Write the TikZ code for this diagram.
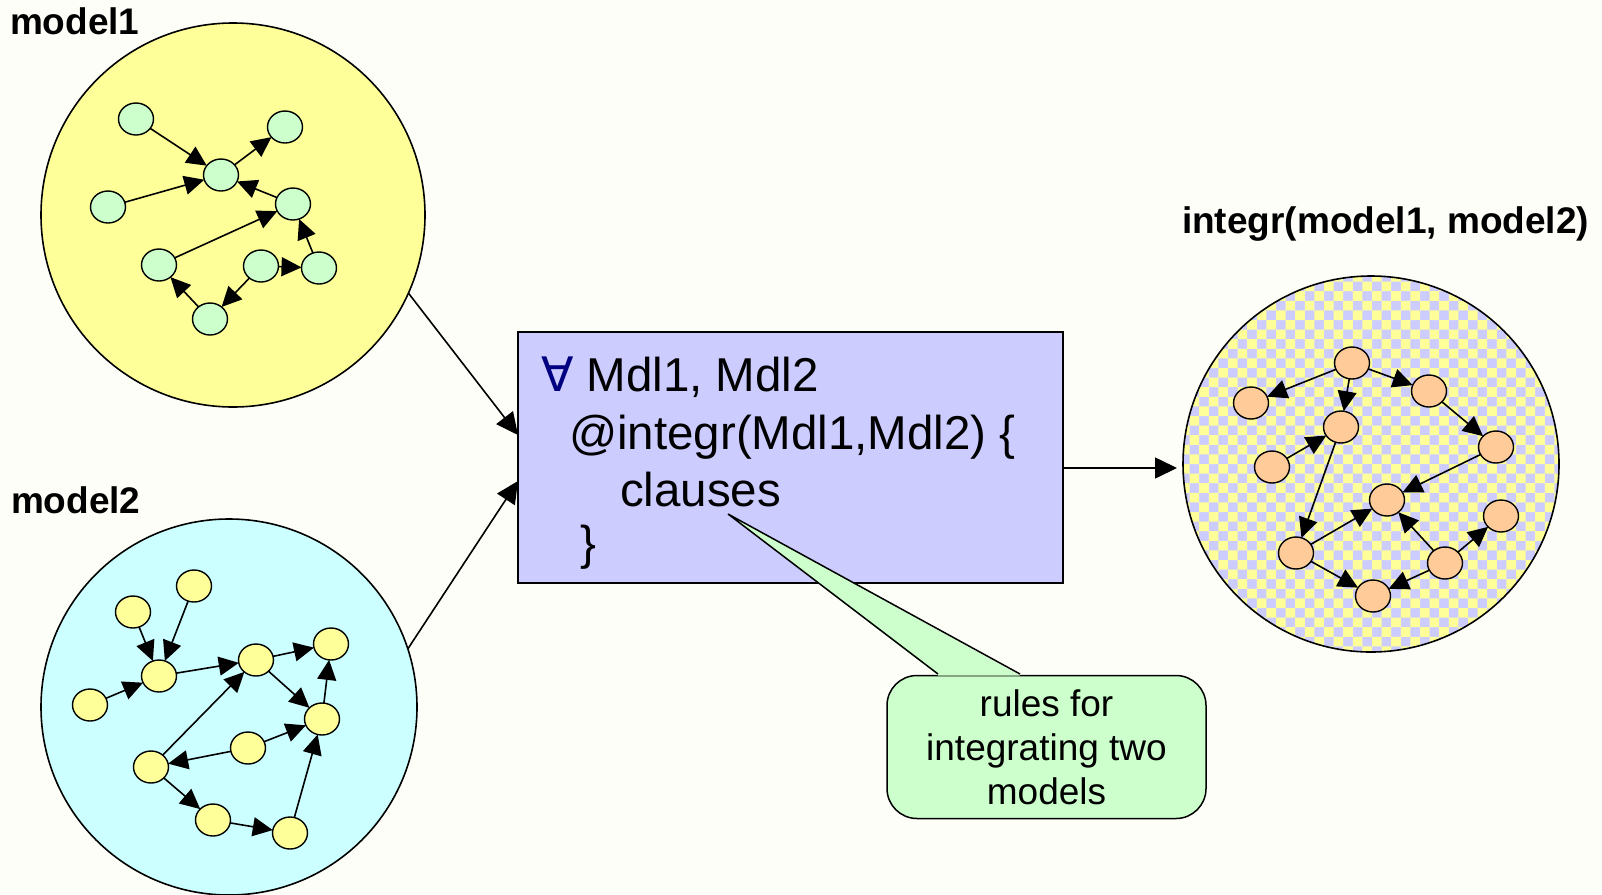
\documentclass[tikz,border=0pt]{standalone}
\usepackage{fontspec}
\setmainfont{Liberation Sans}
\newfontfamily\symfont{DejaVu Sans}
\usetikzlibrary{arrows.meta,shapes.geometric}

\definecolor{paper}{RGB}{254,254,249}
\definecolor{lemon}{RGB}{255,255,153}
\definecolor{mint}{RGB}{204,255,204}
\definecolor{aqua}{RGB}{204,255,255}
\definecolor{lilac}{RGB}{204,204,255}
\definecolor{peach}{RGB}{255,204,153}
\definecolor{quant}{RGB}{0,0,128}

\begin{document}
\begin{tikzpicture}[x=1pt,y=-1pt,
  every node/.style={inner sep=0pt,outer sep=0pt},
  world/.style={circle,draw,line width=1.6pt},
  vtx/.style={ellipse,draw,line width=1.4pt,minimum width=35pt,minimum height=32pt},
  edge/.style={line width=1.6pt,-{Triangle[length=20pt,width=19pt]}},
  link/.style={line width=1.6pt,-{Triangle[length=22pt,width=21pt]}},
  title/.style={anchor=base west,font=\fontsize{37}{44}\bfseries\selectfont},
  code/.style={anchor=base west,font=\fontsize{47.5}{57}\selectfont},
  callout/.style={draw,fill=mint,line width=1.5pt,rounded corners=30pt},
]
\useasboundingbox (0,0) rectangle (1602,894);
\fill[paper] (0,0) rectangle (1602,894);

% ---------- titles ----------
\node[title] (t1) at (10,34) {model1};
\node[title] (t2) at (11,513) {model2};
\node[title] (t3) at (1182,233) {integr(model1, model2)};

% ---------- first model ----------
\node[world,fill=lemon,minimum size=384pt] (c1) at (233,215) {};
\begin{scope}[every node/.append style={vtx,fill=mint}]
  \node (a1) at (136,119) {};
  \node (a2) at (285,127) {};
  \node (a3) at (221,175) {};
  \node (a4) at (108,207) {};
  \node (a5) at (293,204) {};
  \node (a6) at (159,265) {};
  \node (a7) at (261,266) {};
  \node (a8) at (319,268) {};
  \node (a9) at (210,319) {};
\end{scope}
\draw[edge] (a1) -- (a3);
\draw[edge] (a3) -- (a2);
\draw[edge] (a4) -- (a3);
\draw[edge] (a5) -- (a3);
\draw[edge] (a6) -- (a5);
\draw[edge] (a8) -- (a5);
\draw[edge] (a7) -- (a8);
\draw[edge] (a7) -- (a9);
\draw[edge] (a9) -- (a6);

% ---------- second model ----------
\node[world,fill=aqua,minimum size=376pt] (c2) at (229,707) {};
\begin{scope}[every node/.append style={vtx,fill=lemon}]
  \node (b1) at (194,586) {};
  \node (b2) at (133,612) {};
  \node (b3) at (159,676) {};
  \node (b4) at (90,705) {};
  \node (b5) at (256,660) {};
  \node (b6) at (331,644) {};
  \node (b7) at (322,719) {};
  \node (b8) at (248,748) {};
  \node (b9) at (151,767) {};
  \node (b10) at (213,820) {};
  \node (b11) at (290,833) {};
\end{scope}
\draw[edge] (b2) -- (b3);
\draw[edge] (b1) -- (b3);
\draw[edge] (b4) -- (b3);
\draw[edge] (b3) -- (b5);
\draw[edge] (b5) -- (b6);
\draw[edge] (b5) -- (b7);
\draw[edge] (b7) -- (b6);
\draw[edge] (b8) -- (b7);
\draw[edge] (b8) -- (b9);
\draw[edge] (b9) -- (b5);
\draw[edge] (b9) -- (b10);
\draw[edge] (b10) -- (b11);
\draw[edge] (b11) -- (b7);

% ---------- integrated model (checkered) ----------
\begin{scope}
  \clip (1371,464) circle (188);
  \fill[lilac] (1180,272) rectangle (1564,656);
  \fill[lemon] \foreach \i in {0,2,...,38} {
      \foreach \j in {0,2,...,38} {
        ({1180+\i*9.6},{272+\j*9.6}) rectangle +(9.6,9.6)
        ({1189.6+\i*9.6},{281.6+\j*9.6}) rectangle +(9.6,9.6)
      }
    };
\end{scope}
\node[world,minimum size=376pt] (c3) at (1371,464) {};
\begin{scope}[every node/.append style={vtx,fill=peach}]
  \node (p1) at (1352,363) {};
  \node (p2) at (1251,403) {};
  \node (p3) at (1429,391) {};
  \node (p4) at (1341,427) {};
  \node (p5) at (1272,467) {};
  \node (p6) at (1496,447) {};
  \node (p7) at (1387,500) {};
  \node (p8) at (1501,516) {};
  \node (p9) at (1296,553) {};
  \node (p10) at (1445,563) {};
  \node (p11) at (1373,596) {};
\end{scope}
\draw[edge] (p1) -- (p2);
\draw[edge] (p1) -- (p4);
\draw[edge] (p1) -- (p3);
\draw[edge] (p3) -- (p6);
\draw[edge] (p6) -- (p7);
\draw[edge] (p5) -- (p4);
\draw[edge] (p4) -- (p9);
\draw[edge] (p9) -- (p7);
\draw[edge] (p9) -- (p11);
\draw[edge] (p10) -- (p7);
\draw[edge] (p10) -- (p11);
\draw[edge] (p10) -- (p8);

% ---------- integration rule ----------
\node[draw,fill=lilac,line width=1.5pt,minimum width=545pt,minimum height=251pt] (box) at (790.5,457.5) {};
\node[code] (l1) at (541,391) {{\symfont\color{quant}∀} Mdl1, Mdl2};
\node[code] (l2) at (569,449.5) {@integr(Mdl1,Mdl2) \{};
\node[code] (l3) at (620,506) {clauses};
\node[code] (l4) at (580,559) {\}};

% ---------- connectors ----------
\coordinate (in1) at ([yshift=22.5pt]box.west);
\coordinate (in2) at ([yshift=-23.5pt]box.west);
\coordinate (out) at ([yshift=-10.5pt]box.east);
\draw[link] (c1.-24) -- (in1);
\draw[link] (c2.18) -- (in2);
\draw[link,shorten >=6pt] (out) -- (out -| c3.west);

% ---------- callout ----------
\node[callout,minimum width=319pt,minimum height=143pt,align=center,
      font=\fontsize{37}{44}\selectfont] (note) at (1046.5,747)
      {rules for\\integrating two\\models};
\coordinate (tip) at (728,514);
\coordinate (bl) at (938,674);
\coordinate (br) at (1020,674);
\fill[mint] (tip) -- ([yshift=-1.5pt]br) -- ([yshift=-1.5pt]bl) -- cycle;
\draw[line width=1.5pt,line join=miter] (bl) -- (tip) -- (br);
\end{tikzpicture}
\end{document}
